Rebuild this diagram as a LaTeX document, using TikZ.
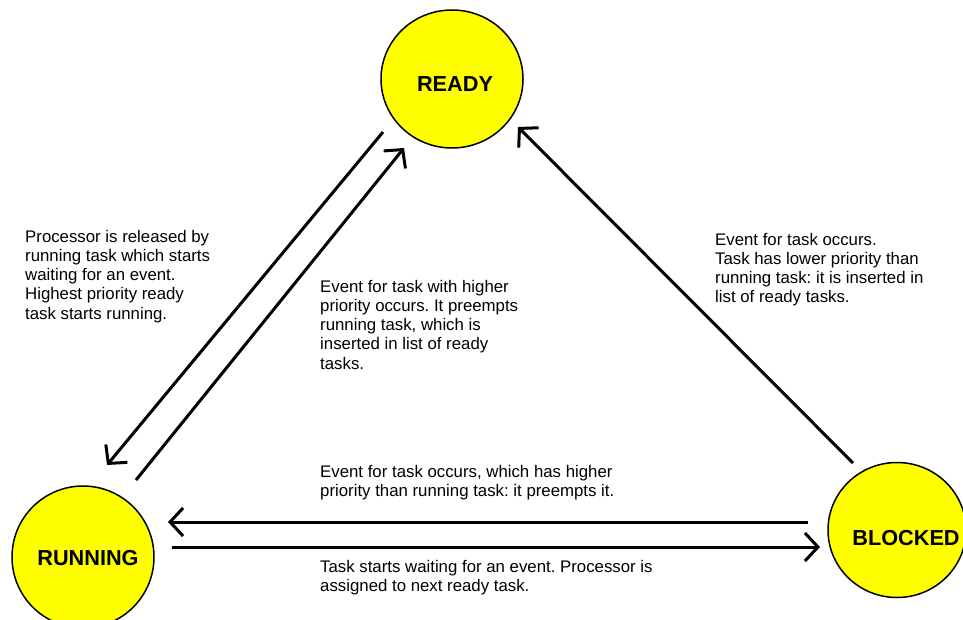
\documentclass[tikz,border=0pt]{standalone}
\usepackage{fontspec}
\setmainfont{Liberation Sans}
\usetikzlibrary{arrows.meta,shapes.geometric}
\definecolor{stateyellow}{RGB}{255,255,0}
\frenchspacing

\begin{document}
\begin{tikzpicture}[x=1pt,y=-1pt,
  state/.style={draw=black, line width=1.5pt, fill=stateyellow, ellipse, inner sep=0pt},
  statename/.style={font=\fontsize{21.7}{26}\selectfont\bfseries, inner sep=0pt},
  note/.style={font=\fontsize{16.8}{19.2}\selectfont, align=left, anchor=north west, inner sep=0pt},
  flow/.style={line width=3pt, -{Straight Barb[length=13pt,width=28pt]}}]
\useasboundingbox (0,0) rectangle (963,620);
\clip (0,0) rectangle (963,620);

% task states
\node[state, minimum width=142pt, minimum height=138pt] (ready) at (452,79) {};
\node[state, minimum width=142pt, minimum height=142pt] (running) at (83,557) {};
\node[state, minimum width=138pt, minimum height=135pt] (blocked) at (897,530) {};
\node[statename] (readyname) at (455,84) {READY};
\node[statename] (runningname) at (88,558) {RUNNING};
\node[statename] (blockedname) at (906,538) {BLOCKED};

% arrow end points, just off the circles
\coordinate (rdyA) at (383,132);
\coordinate (runA) at (107,465);
\coordinate (runB) at (136,480);
\coordinate (rdyB) at (404,148);
\coordinate (blkC) at (853,463);
\coordinate (rdyC) at (518,127);
\coordinate (blkD) at (808,522);
\coordinate (runD) at (168,522);
\coordinate (runE) at (172,547);
\coordinate (blkE) at (820,547);

% transitions
\draw[flow] (rdyA) -- (runA);
\draw[flow] (runB) -- (rdyB);
\draw[flow] (blkC) -- (rdyC);
\draw[flow] (blkD) -- (runD);
\draw[flow] (runE) -- (blkE);

% transition descriptions (placed by the top of their first line)
\node[note] (noteA) at (25,230) {Processor is released by\\running task which starts\\waiting for an event.\\Highest priority ready\\task starts running.};
\node[note] (noteB) at (320,280) {Event for task with higher\\priority occurs. It preempts\\running task, which is\\inserted in list of ready\\tasks.};
\node[note] (noteC) at (715,233) {Event for task occurs.\\Task has lower priority than\\running task: it is inserted in\\list of ready tasks.};
\node[note] (noteD) at (320,465) {Event for task occurs, which has higher\\priority than running task: it preempts it.};
\node[note] (noteE) at (320,560) {Task starts waiting for an event. Processor is\\assigned to next ready task.};
\end{tikzpicture}
\end{document}
